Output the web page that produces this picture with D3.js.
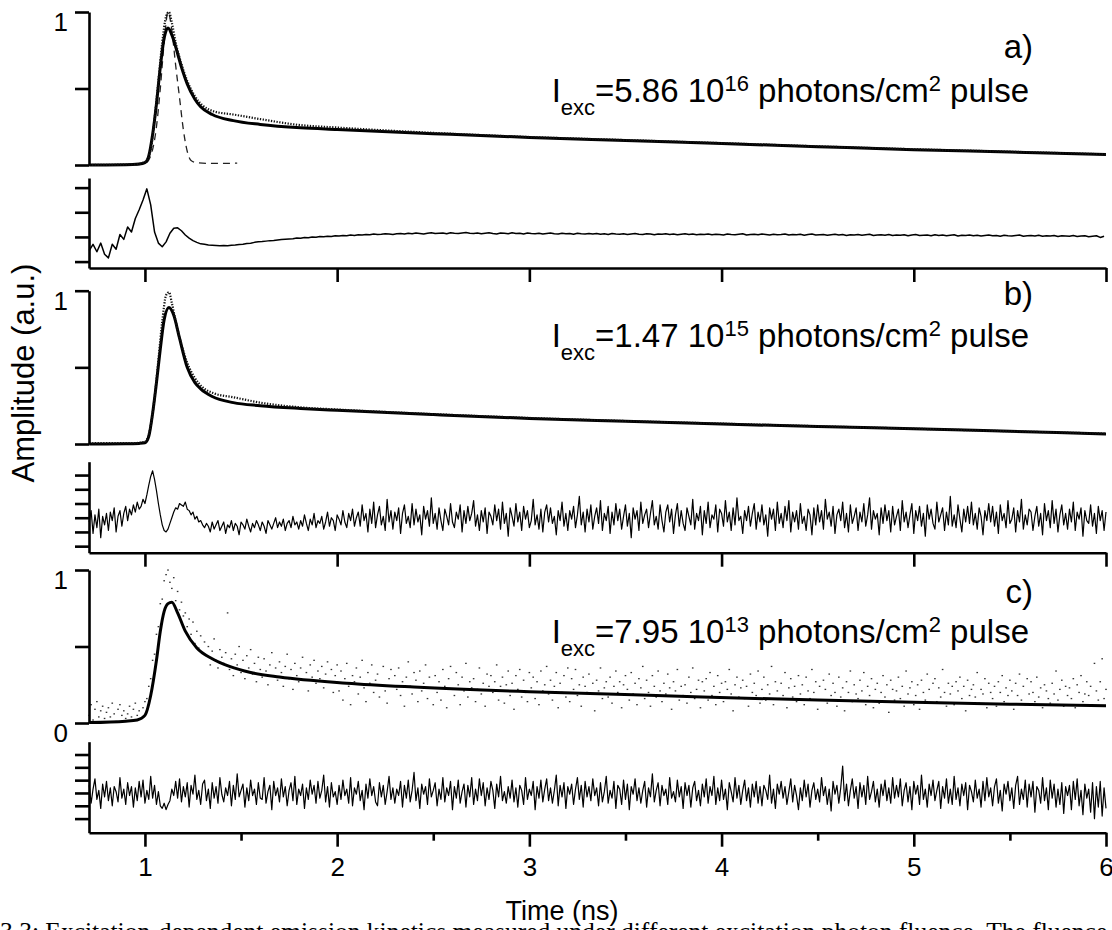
<!DOCTYPE html>
<html>
<head>
<meta charset="utf-8">
<script src="https://cdn.jsdelivr.net/npm/d3@7"></script>
<style>
  html, body { margin: 0; padding: 0; background: #fff; }
  svg { display: block; }
  text { fill: #000; white-space: pre; }
</style>
</head>
<body>
<svg id="chart" width="1112" height="930"></svg>
<script>
// ---------------- data ----------------
// time axis (ns)
const timeStart = 0.71;          // first channel of the recorded traces
const residualStepA = 0.02;      // channel width of the residual trace in panel a
const residualStepBC = 0.01;     // channel width of the residual traces in panels b, c
const scatterStep = 0.01;        // channel width of the weak-excitation trace
const xTicks = [1, 2, 3, 4, 5, 6];
const xMinorTicks = [1.5, 2.5, 3.5, 4.5, 5.5];

// amplitude axes
const yTicksMain = [0, 0.5, 1];
const yTickLabelsAB = ["", "", "1"];
const yTickLabelsC = ["0", "", "1"];
const residualTicksA = [-1, 0, 1, 2];
const residualTicksBC = [-2, -1, 0, 1, 2, 3];

// panel annotations
const panelTags = ["a)", "b)", "c)"];
const fluenceMantissa = ["5.86", "1.47", "7.95"];
const fluenceExponent = ["16", "15", "13"];

// instrument response (panel a), [time, amplitude]
const irfA = [[0.95,0],[1.0,0.01],[1.03,0.06],[1.06,0.25],[1.08,0.5],[1.10,0.8],[1.12,1.0],
  [1.14,0.88],[1.16,0.65],[1.18,0.44],[1.20,0.23],[1.22,0.09],[1.24,0.03],[1.27,0.015],
  [1.35,0.01],[1.48,0.012]];

// fitted decays, [time, amplitude]
const fitA = [[0.71,0],[0.9,0.001],[0.97,0.006],[1.0,0.015],[1.02,0.06],[1.04,0.2],[1.06,0.4],
  [1.08,0.64],[1.10,0.83],[1.12,0.895],[1.14,0.85],[1.165,0.75],[1.19,0.64],[1.22,0.53],
  [1.26,0.43],[1.29,0.38],[1.35,0.33],[1.46,0.29],[1.6,0.265],[1.81,0.243],[2.0,0.232],
  [2.5,0.205],[3,0.18],[3.5,0.16],[4,0.14],[4.5,0.12],[5,0.1],[5.5,0.085],[6,0.068]];
const fitB = [[0.71,0],[0.9,0.001],[0.97,0.004],[1.0,0.008],[1.02,0.05],[1.04,0.2],[1.06,0.4],
  [1.08,0.62],[1.10,0.81],[1.125,0.89],[1.15,0.84],[1.18,0.69],[1.22,0.5],[1.26,0.4],
  [1.29,0.36],[1.35,0.31],[1.46,0.27],[1.6,0.25],[1.81,0.232],[2.0,0.22],[2.5,0.192],
  [3,0.167],[3.5,0.148],[4,0.13],[4.5,0.114],[5,0.1],[5.5,0.083],[6,0.066]];
const fitC = [[0.71,0.003],[0.9,0.012],[0.96,0.02],[1.0,0.05],[1.03,0.18],[1.06,0.41],[1.08,0.6],
  [1.10,0.73],[1.12,0.78],[1.14,0.79],[1.17,0.72],[1.21,0.6],[1.27,0.49],[1.35,0.42],
  [1.44,0.37],[1.55,0.33],[1.7,0.3],[2.05,0.26],[2.4,0.235],[3,0.205],[3.27,0.195],
  [3.9,0.17],[4.5,0.15],[5,0.135],[5.5,0.123],[6,0.113]];

// measured decays (high and medium excitation), [time, amplitude]
const dataA = [[0.71,0],[0.95,0.005],[1.0,0.02],[1.03,0.1],[1.05,0.3],[1.07,0.55],[1.09,0.8],
  [1.11,0.97],[1.125,1.0],[1.14,0.93],[1.16,0.8],[1.19,0.66],[1.22,0.55],[1.26,0.45],
  [1.3,0.39],[1.36,0.35],[1.46,0.33],[1.6,0.3],[1.8,0.262],[2.0,0.245],[2.5,0.21],
  [3,0.183],[3.5,0.163],[4,0.143],[4.5,0.122],[5,0.103],[5.5,0.087],[6,0.07]];
const dataB = [[0.71,0.005],[0.95,0.006],[1.0,0.015],[1.03,0.12],[1.05,0.3],[1.07,0.55],[1.09,0.8],
  [1.11,0.97],[1.125,0.99],[1.14,0.92],[1.16,0.8],[1.19,0.65],[1.22,0.53],[1.26,0.43],
  [1.3,0.37],[1.36,0.33],[1.46,0.305],[1.6,0.27],[1.8,0.24],[2.0,0.225],[2.5,0.195],
  [3,0.17],[3.5,0.15],[4,0.133],[4.5,0.116],[5,0.1],[5.5,0.083],[6,0.068]];

// measured decay at weak excitation, one value per 0.01 ns channel from 0.71 ns
const dataC = [
  .05,.12,.02,.09,.14,.04,.08,.11,.03,.07,
  .10,.04,.13,.06,.01,.09,.12,.05,.08,.03,
  .06,.11,.04,.09,.13,.05,.08,.03,.10,.14,
  .16,.24,.29,.41,.45,.58,.63,.78,.81,.93,
  .97,1.0,.92,.88,.95,.8,.86,.74,.79,.7,
  .72,.63,.68,.58,.66,.52,.6,.49,.57,.46,
  .53,.44,.5,.38,.47,.55,.41,.36,.48,.43,
  .39,.46,.72,.35,.42,.31,.45,.38,.5,.33,
  .41,.29,.44,.36,.48,.32,.39,.27,.43,.35,
  .3,.42,.34,.25,.38,.46,.31,.36,.28,.4,
  .33,.24,.37,.45,.29,.35,.22,.39,.31,.27,
  .36,.43,.28,.33,.21,.38,.3,.41,.26,.34,
  .29,.37,.23,.32,.4,.27,.35,.2,.31,.38,
  .21,.34,.15,.29,.39,.24,.12,.31,.27,.36,
  .19,.3,.41,.23,.14,.33,.26,.38,.2,.28,
  .32,.17,.25,.37,.21,.13,.29,.35,.24,.31,
  .22,.36,.18,.27,.11,.3,.4,.24,.19,.33,
  .28,.14,.34,.21,.26,.38,.16,.3,.23,.12,
  .31,.2,.27,.15,.35,.24,.1,.29,.37,.22,
  .18,.33,.25,.12,.3,.21,.39,.17,.27,.23,
  .29,.14,.22,.36,.19,.26,.11,.32,.24,.31,
  .2,.27,.38,.15,.24,.3,.13,.25,.34,.18,
  .26,.09,.31,.22,.35,.17,.28,.2,.14,.33,
  .23,.3,.16,.27,.12,.34,.21,.25,.37,.19,
  .28,.15,.24,.33,.1,.26,.2,.31,.17,.36,
  .14,.29,.22,.35,.18,.25,.11,.3,.24,.2,
  .32,.19,.26,.08,.28,.21,.36,.16,.23,.27,
  .17,.3,.13,.24,.34,.2,.27,.1,.25,.31,
  .22,.15,.33,.19,.26,.12,.29,.23,.37,.16,
  .28,.2,.11,.31,.24,.17,.34,.21,.14,.26,
  .19,.32,.23,.09,.27,.21,.35,.15,.24,.18,
  .25,.13,.3,.2,.36,.16,.22,.28,.1,.27,
  .21,.29,.15,.33,.18,.24,.12,.31,.2,.26,
  .14,.27,.22,.35,.19,.08,.25,.3,.17,.23,
  .28,.16,.24,.11,.32,.2,.26,.18,.34,.13,
  .22,.3,.15,.25,.19,.37,.12,.27,.21,.16,
  .26,.18,.33,.1,.23,.29,.17,.24,.14,.31,
  .19,.25,.12,.3,.21,.16,.35,.2,.27,.09,
  .24,.15,.28,.22,.13,.32,.18,.26,.2,.11,
  .3,.17,.23,.08,.27,.2,.34,.14,.25,.19,
  .16,.28,.21,.33,.12,.24,.18,.29,.1,.22,
  .26,.13,.2,.31,.17,.25,.07,.28,.22,.15,
  .21,.3,.16,.24,.11,.34,.19,.23,.27,.12,
  .18,.25,.09,.28,.2,.15,.32,.22,.13,.26,
  .29,.14,.23,.17,.35,.2,.11,.26,.19,.24,
  .12,.27,.21,.3,.16,.24,.08,.28,.18,.22,
  .25,.17,.33,.13,.22,.19,.29,.1,.26,.2,
  .16,.24,.11,.27,.2,.31,.14,.23,.18,.28,
  .21,.09,.26,.18,.32,.15,.24,.12,.29,.19,
  .27,.2,.14,.3,.17,.23,.1,.25,.21,.16,
  .13,.26,.19,.34,.15,.22,.28,.11,.24,.18,
  .23,.16,.29,.1,.25,.2,.31,.14,.19,.27,
  .18,.24,.12,.39,.21,.15,.27,.42,.16,.22
];

// weighted residuals
// panel a: one value per 0.02 ns channel from 0.71 ns
const residualA = [
  -.55,-.3,-.6,-.25,-.7,-.85,-.3,-.5,.1,-.1,.4,.2,.75,1.1,1.5,
  1.95,1.3,.2,-.25,-.4,-.2,.15,.35,.37,.25,.08,-.05,-.15,-.22,-.28,-.3,-.33,
  -.34,-.35,-.36,-.35,-.36,
  -.34,-.33,-.31,-.3,-.27,-.26,-.22,-.2,
  -.19,-.17,-.15,-.14,-.12,-.1,-.09,-.08,
  -.07,-.04,-.05,-.02,-.03,0,-.01,.02,.01,.03,.02,.05,
  .04,.06,.05,.08,.06,.09,.08,.1,.09,.12,.1,.11,.13,.12,.1,.13,
  .14,.12,.15,.13,.16,.14,.12,.15,.17,.14,.15,.16,.13,.17,.15,.14,.16,.18,.15,.14,
  .16,.13,.15,.17,.14,.12,.16,.15,.13,.17,.14,.15,.12,.16,.14,.13,.15,.12,.14,.16,
  .13,.12,.15,.13,.14,.11,.15,.13,.12,.14,
  .12,.14,.11,.13,.1,.14,.12,.11,.13,.1,.12,.14,.11,.1,.13,.12,.09,.12,.11,.13,
  .1,.12,.09,.11,.13,.1,.12,.09,.11,.1,
  .12,.09,.11,.1,.08,.12,.1,.09,.11,.13,.08,.1,.11,.09,.12,.1,.08,.11,.09,.1,
  .12,.08,.1,.09,.11,.07,.1,.12,.08,.09,
  .1,.07,.09,.11,.08,.1,.06,.09,.08,.1,.07,.09,.11,.06,.08,.09,.07,.1,.06,.08,
  .07,.09,.05,.08,.1,.06,.07,.08,.05,.09,
  .06,.08,.05,.07,.09,.04,.07,.06,.08,.05,.07,.04,.06,.08,.05,.06,.03,.07,.05,.04,
  .06,.08,.03,.05,.06,.04,.07,.03,.05,.04,.06,.02,.05,.04,.03,.06,.02,.04,.05,.01,
  .03,.05,-.02,.03
];
// panels b and c: one value per 0.01 ns channel from 0.71 ns
const residualB = [
  -.3,.5,-1.1,.2,-.7,.6,-1.4,.1,-.5,.3,
  -.9,.4,-.2,.7,-1.0,.1,.5,-.6,.3,.8,
  -.2,.6,.2,.9,.4,1.1,.6,.8,1.3,1.0,
  1.6,2.3,2.9,3.3,2.7,1.9,1.0,.2,-.5,-.9,
  -1.0,-.8,-.4,0,.4,.7,.6,1.0,.9,.8,
  1.1,.6,.5,.2,.4,-.1,.1,-.3,-.2,-.5,
  -.7,-.4,-.6,-1.0,-.3,-.8,-.5,-.2,-.9,-.6,
  -.3,-1.1,-.5,-.7,-.2,-.9,-.4,-.6,-1.2,-.3,
  -.5,-.8,-.1,-.6,-1.0,-.4,-.7,-.2,-.5,-.9,
  -.3,-.6,-1.1,-.2,-.5,-.8,-.4,0,-.7,-.3,
  -.6,-.1,-.9,-.4,-.2,-.7,.1,-.5,-.3,-.8,
  -.2,-.6,.2,-.4,-.9,-.1,-.5,.3,-.7,-.2,
  -.4,.1,-.8,-.3,.4,-.6,0,-.2,-.9,.2,
  -.1,-.5,.5,-.3,-.7,.3,-.2,.6,-.6,0,
  .4,-.6,.9,-.2,.3,-1.0,.6,-.4,1.1,-.7,
  .2,.8,-.5,.1,-.9,1.3,-.3,.5,-.8,.4,
  -.2,.7,-1.1,.3,.9,-.4,.1,-.7,1.0,-.5,
  .6,-.3,.2,-1.2,.8,-.1,.5,-.6,1.4,-.4,
  .3,-.8,.7,-.2,-.9,.6,.1,-.5,1.0,-.3,
  -.7,.4,-.1,.9,-1.0,.5,-.4,.8,-.2,.3,
  1.2,-.6,.2,-.9,.5,-.3,.7,-1.1,.4,.1,
  -.5,.9,-.2,.6,-.8,1.1,-.4,.3,-1.3,.7,
  .1,-.6,1.0,-.3,.4,-.9,.8,-.1,.5,-.7,
  -.2,1.3,-.5,.2,-.8,.6,-1.0,.4,.9,-.3,
  .7,-.4,.1,-1.2,.5,-.2,1.1,-.6,.3,-.9,
  .5,-.1,.8,-.7,.2,1.5,-.5,.4,-1.0,.6,
  -.3,.9,-.8,.1,.7,-.4,1.2,-.9,.3,-.2,
  .8,-1.1,.4,-.5,1.0,-.2,.6,-.8,.1,.9,
  -.6,.3,-1.4,.7,-.1,.5,-.9,1.1,-.4,.2,
  .6,-.7,.3,1.2,-.5,.1,-.8,.9,-.2,-1.0,
  .4,.9,-.3,.6,-1.1,.2,1.0,-.6,.5,-.4,
  -.9,.7,.1,-.5,1.3,-.8,.3,-.2,.8,-1.2,
  .5,-.4,1.1,-.7,.2,-.1,.9,-1.0,.6,.3,
  -.6,1.2,-.3,.4,-.9,.7,-.5,1.4,-.2,.1,
  -1.1,.5,-.2,.8,-.6,.3,1.0,-.8,.4,-.3,
  .9,-.5,.2,-1.3,.7,-.1,.6,-.9,1.1,-.4,
  .3,-.7,.8,-.2,1.2,-1.0,.4,-.3,.5,-.8,
  1.0,-.4,.1,-.9,.6,.2,-1.2,.7,-.5,.9,
  -.3,.5,-.8,1.3,-.1,.4,-.6,.8,-1.1,.2,
  .6,-.2,1.1,-.7,.3,-1.0,.9,-.4,.1,.7,
  -.9,.4,-.3,1.0,-.6,.2,1.4,-.8,.5,-.1,
  .3,-1.2,.7,-.4,.9,-.2,.5,-1.0,.8,-.5,
  .1,.6,-.9,1.2,-.3,.4,-.7,.2,1.0,-1.1,
  .5,-.2,.8,-.6,.3,-1.3,.9,-.1,.6,-.4,
  -.8,1.1,-.3,.2,.7,-.9,.4,-.5,1.5,-.6,
  .2,-.7,.9,-.1,-1.0,.6,-.3,.8,-.4,1.1,
  -.5,.3,-.8,.7,.1,-1.2,.5,-.2,1.0,-.3,
  .8,-.6,.4,-1.1,.9,-.2,.3,-.7,1.2,-.4,
  -.1,.7,-1.0,.5,-.3,1.3,-.8,.2,-.5,.6,
  .4,-.9,.1,.8,-.6,.3,-1.2,1.0,-.2,.5,
  -.7,1.2,-.4,.6,-1.0,.2,.9,-.5,.3,-.8,
  .6,-.3,1.1,-.9,.4,-.1,.7,-1.3,.5,-.2,
  -.4,.9,-.6,.3,-1.1,.8,-.2,.5,-.9,.4
];
const residualC = [
  .6,-.8,.3,1.1,-.5,.2,-1.2,.7,-.3,.9,
  -.6,.4,-1.0,.5,.1,-.7,1.2,-.4,.3,-.9,
  .8,-.2,.5,-1.1,.4,-.6,.9,-.3,1.0,-.8,
  .2,-.5,1.3,-.4,.6,-.9,.1,-1.0,-1.2,-.8,
  -1.3,-.9,-.6,.3,-.2,.9,-.4,1.1,-.7,.5,
  -.3,.8,-1.1,.6,-.1,1.4,-.5,.2,-.9,.7,
  1.0,-.6,.3,-1.2,.8,-.4,.5,-.8,1.2,-.1,
  -.7,.4,-.2,.9,-1.0,.6,-.5,1.5,-.3,.2,
  .7,-1.1,.4,-.6,1.0,-.2,.3,-.9,.8,-.4,
  -.5,1.2,-.8,.1,.6,-1.3,.9,-.2,.4,-.7,
  1.1,-.3,.5,-1.0,.2,.8,-.6,1.3,-.9,.3,
  -.2,.7,-1.2,.4,-.5,1.0,-.1,.6,-.8,.9,
  -.4,.2,1.4,-.7,.5,-1.1,.8,-.3,.1,-.9,
  .6,-.5,1.0,-.2,.3,-.8,1.2,-1.0,.4,-.1,
  .9,-.6,.2,-1.3,.7,-.4,1.1,-.2,.5,-.7,
  -1.0,.8,-.3,.6,-.9,.1,1.3,-.5,.4,-.8,
  .3,-.2,.9,-1.1,.6,-.4,1.0,-.7,.2,1.6,
  -.6,.4,-1.2,.7,-.1,.5,-.9,1.1,-.3,.2,
  .8,-1.0,.3,-.5,1.2,-.7,.4,-.2,.9,-1.3,
  .5,-.4,1.0,-.8,.1,.7,-1.1,.6,-.3,1.2,
  -.9,.3,-.6,1.1,-.2,.8,-1.0,.4,-.5,.9,
  .2,-1.2,.7,-.3,1.3,-.6,.1,-.8,.5,-.4,
  1.0,-.7,.4,-1.1,.6,.2,-.9,1.2,-.5,.3,
  -.2,.9,-1.3,.5,-.4,1.0,-.7,.3,1.1,-.6,
  .4,-.8,.2,1.4,-1.0,.6,-.3,.8,-1.2,.5,
  -.1,.7,-.9,.3,1.2,-.5,.6,-1.1,.9,-.3,
  .5,-.6,1.1,-.2,.4,-1.0,.8,-.7,.1,1.3,
  -.8,.2,-.4,.9,-1.2,.6,.3,-.9,1.0,-.5,
  .7,-1.3,.5,-.1,1.1,-.6,.4,-.8,.2,.9,
  -1.1,.4,-.3,1.5,-.7,.2,.8,-1.0,.6,-.2,
  .3,-.9,1.2,-.4,.1,-.7,1.0,-.3,.5,-1.2,
  .8,-.2,.6,-1.1,.4,.9,-.6,.2,-1.0,.7,
  -.3,1.1,-.8,.5,-.2,1.3,-.9,.4,-.6,1.0,
  -.5,.3,-1.3,.8,.1,-.7,1.2,-.4,.6,-.9,
  .2,1.0,-.6,.4,-1.1,.7,-.3,.9,-.8,.5,
  -1.0,.6,.2,-.5,1.4,-.8,.3,-1.2,.7,-.1,
  .9,-.4,.5,-.9,.1,1.1,-.7,.6,-.2,-1.3,
  .4,-.6,1.0,-.3,.7,-1.1,.2,.8,-.5,.3,
  -.7,1.2,-.2,.5,-.9,.3,-1.4,.9,-.1,.6,
  -.8,.4,2.1,-.6,.7,-1.0,.2,1.1,-.4,.5,
  -1.2,.8,-.3,.6,-.9,1.3,-.5,.1,.9,-.7,
  .3,-1.1,.7,-.2,1.0,-.6,.4,-.8,1.2,-.4,
  .6,-.3,1.1,-1.0,.2,.8,-.7,.5,-1.3,.9,
  -.1,.6,-.9,1.4,-.5,.3,-1.1,.7,-.2,1.0,
  -.6,.2,.9,-1.2,.5,-.4,1.1,-.8,.3,-.9,
  1.3,-.5,.4,-1.0,.7,-.2,.8,-1.3,.6,.1,
  -.7,1.0,-.4,.3,-1.1,.9,-.6,1.2,-.3,.4,
  -1.0,.5,1.1,-.8,.2,-1.4,.7,-.1,.9,-.6,
  .4,-1.2,.6,1.3,-.9,.3,-.5,1.0,-1.1,.7,
  -.3,.9,-1.5,.5,.2,-.8,1.2,-.6,.4,-1.3,
  1.0,-.4,.7,-1.1,.3,-.9,.8,-1.6,.5,-.2,
  .6,-1.3,.9,-.5,1.1,-1.0,.2,-1.7,.7,-.4,
  .3,-1.5,.8,-2.0,.5,-1.1,.9,-1.8,.4,-1.2
];

// ---------------- layout ----------------
const SANS = "'Liberation Sans', Arial, Helvetica, sans-serif";
const SERIF = "'Liberation Serif', 'Times New Roman', Times, serif";
const svg = d3.select("#chart").style("font-family", SANS);
const x = d3.scaleLinear().domain([0.709, 6]).range([89, 1106]);

const panels = [
  { fit: fitA, data: dataA, irf: irfA, residual: residualA, resStep: residualStepA,
    resTicks: residualTicksA, tickLabels: yTickLabelsAB, top: 12, bottom: 165,
    resTop: 178, resBottom: 268, resDomain: [-1.26, 2.39], tagY: 58, textY: 102, resWidth: 1.5 },
  { fit: fitB, data: dataB, residual: residualB, resStep: residualStepBC,
    resTicks: residualTicksBC, tickLabels: yTickLabelsAB, top: 290.7, bottom: 444,
    resTop: 461.7, resBottom: 552.7, resDomain: [-2.46, 3.94], tagY: 305, textY: 347, resWidth: 1.2 },
  { fit: fitC, scatter: dataC, residual: residualC, resStep: residualStepBC,
    resTicks: residualTicksBC, tickLabels: yTickLabelsC, top: 570, bottom: 723,
    resTop: 741.7, resBottom: 832.7, resDomain: [-3.1, 4.0], tagY: 603, textY: 643, resWidth: 1.2 }
];

const AXIS_W = 2.6;
function styleAxis(g) {
  g.attr("font-family", null).attr("font-size", null);
  g.selectAll(".domain").attr("stroke", "#000").attr("stroke-width", AXIS_W);
  g.selectAll(".tick line").attr("stroke", "#000").attr("stroke-width", AXIS_W);
}

const fitLine = y => d3.line().x(d => x(d[0])).y(d => y(d[1])).curve(d3.curveMonotoneX);

panels.forEach((p, k) => {
  const y = d3.scaleLinear().domain([0, 1]).range([p.bottom, p.top]);
  const yr = d3.scaleLinear().domain(p.resDomain).range([p.resBottom, p.resTop]);

  // --- decay plot ---
  if (p.scatter) {
    svg.append("g").selectAll("rect")
      .data(p.scatter)
      .join("rect")
      .attr("x", (d, i) => x(timeStart + i * scatterStep) - 0.8)
      .attr("y", d => y(d) - 0.6)
      .attr("width", 1.6)
      .attr("height", 1.3)
      .attr("fill", "#333");
  }
  if (p.irf) {
    svg.append("path").datum(p.irf)
      .attr("d", fitLine(y))
      .attr("fill", "none").attr("stroke", "#222")
      .attr("stroke-width", 1.3).attr("stroke-dasharray", "7,5");
  }
  svg.append("path").datum(p.fit)
    .attr("d", fitLine(y))
    .attr("fill", "none").attr("stroke", "#000")
    .attr("stroke-width", 3).attr("stroke-linejoin", "round");
  if (p.data) {
    svg.append("path").datum(p.data)
      .attr("d", fitLine(y))
      .attr("fill", "none").attr("stroke", "#111")
      .attr("stroke-width", 2.2).attr("stroke-dasharray", "1.3,1.5");
  }

  const ya = svg.append("g").attr("transform", `translate(${x.range()[0]},0)`)
    .call(d3.axisLeft(y).tickValues(yTicksMain).tickSize(14).tickSizeOuter(0)
      .tickPadding(7).tickFormat((d, i) => p.tickLabels[i]));
  styleAxis(ya);
  ya.selectAll(".tick text").attr("font-size", 26).attr("dy", "0.72em");

  // --- residual plot ---
  const resLine = d3.line()
    .x((d, i) => x(timeStart + i * p.resStep))
    .y(d => yr(d));
  svg.append("path").datum(p.residual)
    .attr("d", resLine)
    .attr("fill", "none").attr("stroke", "#000")
    .attr("stroke-width", p.resWidth).attr("stroke-linejoin", "round");

  const ra = svg.append("g").attr("transform", `translate(${x.range()[0]},0)`)
    .call(d3.axisLeft(yr).tickValues(p.resTicks).tickSize(14).tickSizeOuter(0).tickFormat(""));
  styleAxis(ra);

  const last = k === panels.length - 1;
  const xa = svg.append("g").attr("transform", `translate(0,${p.resBottom})`)
    .call(d3.axisBottom(x).tickValues(xTicks).tickSize(14).tickSizeOuter(0)
      .tickPadding(11).tickFormat(last ? d3.format("d") : ""));
  styleAxis(xa);
  xa.selectAll(".tick text").attr("font-size", 26);
  if (last) {
    const xm = svg.append("g").attr("transform", `translate(0,${p.resBottom})`)
      .call(d3.axisBottom(x).tickValues(xMinorTicks).tickSize(8).tickFormat(""));
    styleAxis(xm);
    xm.select(".domain").remove();
  }

  // --- annotations ---
  svg.append("text").attr("x", 1033).attr("y", p.tagY)
    .attr("text-anchor", "end").attr("font-size", 33).text(panelTags[k]);

  const t = svg.append("text").attr("x", 1029).attr("y", p.textY)
    .attr("text-anchor", "end").attr("font-size", 33);
  t.append("tspan").text("I");
  t.append("tspan").attr("font-size", 22).attr("dy", 13).text("exc");
  t.append("tspan").attr("dy", -13).text("=" + fluenceMantissa[k] + " 10");
  t.append("tspan").attr("font-size", 22).attr("dy", -11).text(fluenceExponent[k]);
  t.append("tspan").attr("dy", 11).text(" photons/cm");
  t.append("tspan").attr("font-size", 22).attr("dy", -11).text("2");
  t.append("tspan").attr("dy", 11).text(" pulse");
});

// figure caption (runs off the bottom edge of the page)
svg.append("text")
  .attr("x", 0).attr("y", 940)
  .style("font-family", SERIF)
  .attr("font-size", 25.5)
  .text("3.3: Excitation-dependent emission kinetics measured under different excitation photon fluence. The fluence");

// axis titles
svg.append("text")
  .attr("transform", "translate(34,373) rotate(-90)")
  .attr("text-anchor", "middle").attr("font-size", 31)
  .text("Amplitude (a.u.)");
svg.append("text")
  .attr("x", 562).attr("y", 920)
  .attr("text-anchor", "middle").attr("font-size", 27)
  .text("Time (ns)");
</script>
</body>
</html>
